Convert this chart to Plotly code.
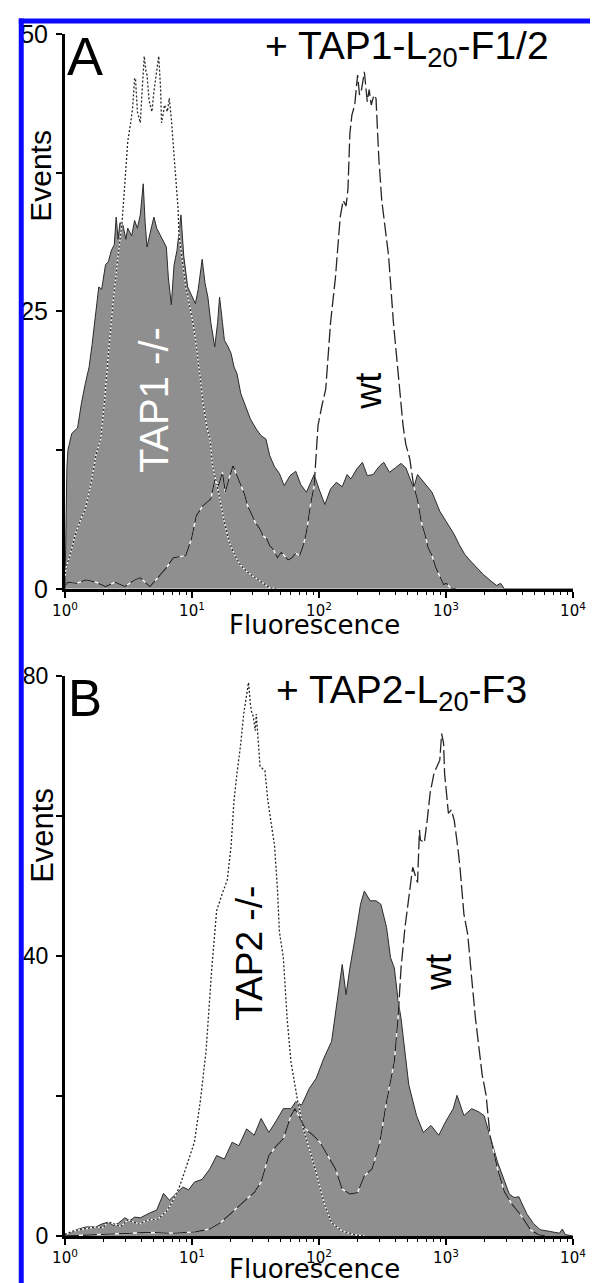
import plotly.graph_objects as go

# ---------------- DATA (log10 fluorescence, events) ----------------
# Panel A
a_fill_log = [0.000, 0.008, 0.015, 0.023, 0.053, 0.099, 0.129, 0.160, 0.190, 0.213, 0.243, 0.266, 0.289, 0.319,
              0.342, 0.365, 0.388, 0.403, 0.418, 0.433, 0.456, 0.479, 0.494, 0.525, 0.548, 0.570, 0.593, 0.616,
              0.631, 0.646, 0.669, 0.700, 0.722, 0.745, 0.768, 0.798, 0.814, 0.837, 0.859, 0.882, 0.913, 0.935,
              0.966, 0.996, 1.027, 1.049, 1.080, 1.103, 1.125, 1.148, 1.179, 1.202, 1.217, 1.240, 1.255, 1.285,
              1.308, 1.331, 1.354, 1.384, 1.422, 1.460, 1.506, 1.544, 1.582, 1.612, 1.650, 1.688, 1.726, 1.772,
              1.817, 1.856, 1.901, 1.932, 1.962, 2.000, 2.046, 2.091, 2.137, 2.183, 2.221, 2.251, 2.297, 2.342,
              2.380, 2.426, 2.471, 2.510, 2.555, 2.601, 2.646, 2.684, 2.715, 2.745, 2.776, 2.829, 2.890, 2.951,
              3.004, 3.065, 3.103, 3.148, 3.194, 3.240, 3.293, 3.354, 3.399, 3.430, 3.460, 4.000]
a_fill_events = [0, 6, 11, 12.5, 14, 14.5, 16.7, 18.5, 20, 22, 25, 27.2, 27, 29.2,
                 29.5, 30.5, 31, 33.5, 31.5, 33, 32.8, 31.5, 32.5, 31.8, 33.2, 32.5, 33.7, 36.5,
                 33, 30.8, 32, 33.5, 32.5, 32, 31.5, 30.8, 28, 25.6, 29.2, 30.5, 33.7, 30,
                 27.2, 26.5, 25.7, 27, 29.7, 27.5, 26.3, 24, 21.8, 24, 26.3, 24, 22.4, 21.8,
                 21.2, 20, 19.4, 17.6, 16.5, 15.3, 14.4, 13.8, 13.5, 12, 11, 10.4, 9.3, 10.2,
                 10.6, 9.4, 8.7, 9.6, 10.3, 9, 7.6, 9, 9.6, 9.2, 10.3, 9.9, 10.8, 11.4,
                 10.2, 10.3, 11, 11.4, 10.5, 10.9, 11.3, 10.9, 10, 9.1, 10.3, 9.6, 8.7, 7,
                 6, 4.9, 4, 3.1, 2.5, 1.9, 1.3, 0.7, 0.3, 0.5, 0, 0]

a_ko_log = [0.000, 0.008, 0.038, 0.084, 0.122, 0.160, 0.205, 0.243, 0.281, 0.312, 0.342, 0.380, 0.418, 0.449,
            0.471, 0.494, 0.517, 0.532, 0.548, 0.555, 0.570, 0.593, 0.608, 0.624, 0.639, 0.646, 0.662, 0.669,
            0.684, 0.700, 0.722, 0.738, 0.753, 0.760, 0.776, 0.783, 0.806, 0.821, 0.837, 0.859, 0.890, 0.897,
            0.920, 0.951, 0.981, 1.004, 1.027, 1.042, 1.065, 1.087, 1.118, 1.141, 1.163, 1.209, 1.255, 1.293,
            1.338, 1.384, 1.437, 1.498, 1.559, 1.612, 1.673]
a_ko_events = [1, 1.9, 3, 5, 6.2, 7.2, 9.5, 12, 13.5, 17, 21.2, 26, 30, 33,
               36.5, 40.3, 42, 43.3, 46, 46, 43, 42, 45, 48, 46.5, 46.3, 44, 43.6,
               43, 44.8, 46.5, 48, 45, 42, 43, 43.6, 43, 44.2, 42.4, 38.8, 34.3, 32,
               30, 27.2, 25.5, 24.2, 22.5, 21.2, 19, 16.7, 14.5, 13.5, 11, 8.7, 6, 4.2,
               3, 2.1, 1.5, 1.0, 0.5, 0.1, 0]

a_wt_log = [0.000, 0.023, 0.091, 0.167, 0.243, 0.319, 0.395, 0.471, 0.548, 0.593, 0.669, 0.745, 0.798, 0.852,
            0.897, 0.951, 0.996, 1.034, 1.087, 1.148, 1.179, 1.209, 1.240, 1.262, 1.293, 1.323, 1.354, 1.384,
            1.414, 1.437, 1.468, 1.498, 1.529, 1.559, 1.589, 1.612, 1.643, 1.673, 1.703, 1.726, 1.757, 1.787,
            1.817, 1.848, 1.878, 1.901, 1.932, 1.962, 1.992, 2.023, 2.053, 2.091, 2.129, 2.167, 2.190, 2.213,
            2.228, 2.243, 2.259, 2.281, 2.304, 2.319, 2.335, 2.357, 2.380, 2.395, 2.411, 2.433, 2.449, 2.456,
            2.471, 2.494, 2.525, 2.548, 2.586, 2.624, 2.662, 2.684, 2.715, 2.745, 2.776, 2.806, 2.837, 2.859,
            2.890, 2.920, 2.951, 2.981, 3.004, 3.034, 3.080]
a_wt_events = [0.3, 0.6, 0.5, 0.8, 0.6, 0.2, 0.6, 0.2, 0.8, 1.0, 0.2, 1.25, 1.9, 2.8,
               2.9, 3.0, 4.5, 6.6, 7.5, 8.1, 9.8, 9.3, 10.5, 8.7, 10, 11.1, 10.2, 9.3,
               8.5, 7.5, 6.8, 6.0, 5.5, 4.8, 4.5, 3.9, 3.5, 2.8, 3.3, 3.0, 2.6, 2.8,
               3.2, 3.0, 4, 5.1, 7.5, 9.3, 14.7, 16.5, 18, 24, 28, 33.5, 35, 34.5,
               36, 41, 42.7, 43.6, 46.3, 44.5, 45, 46.6, 43.9, 45, 43.6, 44.5, 44.2, 42.4,
               38.8, 35, 32, 30, 24, 19, 14.7, 13, 11.7, 9.3, 8, 6, 4.8, 3.7,
               3, 1.9, 1.2, 0.4, 0.5, 0.1, 0]

# Panel B
b_fill_log = [0.000, 0.038, 0.091, 0.167, 0.243, 0.289, 0.342, 0.380, 0.418, 0.471, 0.510, 0.548, 0.593, 0.631,
              0.669, 0.722, 0.753, 0.776, 0.821, 0.875, 0.928, 0.973, 1.019, 1.080, 1.141, 1.194, 1.255, 1.316,
              1.369, 1.430, 1.490, 1.544, 1.605, 1.658, 1.719, 1.779, 1.817, 1.863, 1.924, 1.977, 2.038, 2.099,
              2.152, 2.183, 2.213, 2.243, 2.289, 2.327, 2.357, 2.403, 2.449, 2.487, 2.532, 2.563, 2.593, 2.624,
              2.646, 2.707, 2.768, 2.821, 2.882, 2.943, 2.996, 3.057, 3.087, 3.141, 3.202, 3.262, 3.300, 3.346,
              3.407, 3.460, 3.498, 3.536, 3.574, 3.635, 3.688, 3.741, 3.817, 3.894, 3.916, 3.939, 3.970, 4.000]
b_fill_events = [0.3, 0.4, 0.9, 1.3, 1.3, 1.7, 2.0, 1.5, 1.8, 2.6, 2.2, 2.7, 2.6, 3.0,
                 3.3, 3.7, 5.0, 6.1, 5.1, 6.1, 7.0, 6.6, 7.7, 8.1, 9.6, 11.5, 11.0, 13.4,
                 12.9, 15.3, 14.4, 16.8, 14.8, 16.3, 18.2, 18.2, 19.2, 18.7, 21.1, 22.5, 25.4, 27.8,
                 34.5, 38.8, 34.5, 38.3, 43.1, 47.4, 49.3, 47.9, 47.9, 47.4, 44.1, 39.8, 38.3, 33.5,
                 31.1, 21.6, 17.2, 14.8, 15.8, 14.4, 16.3, 18.2, 20.1, 17.2, 18.2, 17.7, 17.2, 14.4,
                 10.5, 7.9, 6.0, 5.5, 5.6, 3.2, 1.8, 0.9, 0.6, 0.4, 1.0, 0.2, 0.1, 0]

b_ko_log = [0.000, 0.061, 0.152, 0.243, 0.297, 0.342, 0.441, 0.494, 0.586, 0.654, 0.730, 0.798, 0.844, 0.905,
            0.966, 1.019, 1.065, 1.110, 1.156, 1.194, 1.240, 1.278, 1.308, 1.331, 1.354, 1.384, 1.407, 1.430,
            1.445, 1.460, 1.468, 1.483, 1.498, 1.506, 1.521, 1.536, 1.574, 1.597, 1.620, 1.650, 1.673, 1.688,
            1.719, 1.749, 1.779, 1.810, 1.833, 1.878, 1.924, 1.985, 2.038, 2.099, 2.183, 2.274, 2.357]
b_ko_events = [0.2, 0.7, 1.0, 1.3, 1.2, 2.0, 1.4, 2.3, 1.7, 2.3, 2.4, 3.5, 4.8, 7.2,
               10.5, 13.4, 19.2, 26.3, 38.3, 46.5, 49, 50.9, 55.8, 62.3, 66.1, 70.4, 74.6, 77,
               79.1, 76, 75, 74.2, 72.2, 74.6, 71, 67.1, 66.5, 62.3, 59.4, 55.8, 49.5, 43.5,
               39.8, 31.1, 24.9, 21.6, 19.2, 15.3, 12.5, 8.6, 4.8, 1.9, 0.7, 0.2, 0]

b_wt_log = [0.000, 0.342, 0.646, 0.875, 1.027, 1.141, 1.224, 1.316, 1.369, 1.430, 1.490, 1.544, 1.605, 1.665,
            1.719, 1.779, 1.810, 1.863, 1.894, 1.954, 2.008, 2.068, 2.129, 2.183, 2.243, 2.304, 2.357, 2.418,
            2.479, 2.532, 2.593, 2.624, 2.646, 2.677, 2.707, 2.738, 2.776, 2.791, 2.798, 2.829, 2.852, 2.875,
            2.905, 2.928, 2.951, 2.966, 2.981, 2.989, 3.004, 3.019, 3.042, 3.065, 3.095, 3.110, 3.141, 3.171,
            3.202, 3.232, 3.285, 3.316, 3.346, 3.407, 3.460, 3.521, 3.589, 3.635, 3.665, 3.726, 3.779]
b_wt_events = [0, 0.3, 0.5, 0.4, 0.6, 1.0, 1.9, 3.4, 4.3, 5.3, 6.2, 7.7, 11.5, 12.9,
               13.9, 17.2, 18.2, 16.3, 15.3, 14.4, 13.4, 11.5, 9.6, 6.7, 6.0, 6.2, 8.6, 9.6,
               13.4, 19.2, 24.9, 31.6, 38.3, 44.1, 48.4, 52.7, 50.5, 58, 56.6, 56.2, 59.4, 63.3,
               66.1, 67.1, 68, 71.8, 70.4, 66.1, 63.3, 60.4, 60.9, 59.4, 55.2, 52.7, 46, 43.1,
               36.9, 31.1, 23, 20.1, 14.4, 9.5, 6.3, 4.5, 3.0, 1.8, 0.9, 0.2, 0]

x_tick_vals = [1, 10, 100, 1000, 10000]
x_tick_text = ["10<sup>0</sup>", "10<sup>1</sup>", "10<sup>2</sup>", "10<sup>3</sup>", "10<sup>4</sup>"]
a_y_ticks = [0, 12.5, 25, 37.5, 50]
a_y_text = ["0", "", "25", "", "50"]
b_y_ticks = [0, 20, 40, 60, 80]
b_y_text = ["0", "", "40", "", "80"]

# ---------------- STYLE ----------------
GREY = "#8f8f8f"
OUTLINE = "#2a2a2a"
LINE = "#262626"
ARIAL = "Liberation Sans, Arial, sans-serif"
DEJAVU = "DejaVu Sans, Verdana, sans-serif"

# the page puts the figure 8 px in from the top-left corner (body margin)
OFF = 8
PAGE_W, PAGE_H = 598, 1283
W, H = PAGE_W - OFF, PAGE_H - OFF
PLOT_L, PLOT_R, PLOT_T, PLOT_B = 55, 581, 25, 1236          # page pixels of the plot area
ML, MR, MT, MB = PLOT_L - OFF, PAGE_W - PLOT_R, PLOT_T - OFF, PAGE_H - PLOT_B
PW, PH = PLOT_R - PLOT_L, PLOT_B - PLOT_T


def px_x(px):
    return (px - PLOT_L) / PW


def px_y(py):
    return (PLOT_B - py) / PH


def fl(logs):
    return [10 ** v for v in logs]


fig = go.Figure()


def add_panel(xa, ya, fill_l, fill_v, ko_l, ko_v, wt_l, wt_v):
    fig.add_trace(go.Scatter(x=fl(fill_l), y=fill_v, mode="lines", fill="tozeroy",
                             fillcolor=GREY, line=dict(color=OUTLINE, width=1),
                             xaxis=xa, yaxis=ya, hoverinfo="skip"))
    for l, v, dash in ((ko_l, ko_v, "2px,2px"), (wt_l, wt_v, "14px,4px")):
        fig.add_trace(go.Scatter(x=fl(l), y=v, mode="lines",
                                 line=dict(color="white", width=1.3),
                                 xaxis=xa, yaxis=ya, hoverinfo="skip"))
        fig.add_trace(go.Scatter(x=fl(l), y=v, mode="lines",
                                 line=dict(color=LINE, width=1.3, dash=dash),
                                 xaxis=xa, yaxis=ya, hoverinfo="skip"))


add_panel("x", "y", a_fill_log, a_fill_events, a_ko_log, a_ko_events, a_wt_log, a_wt_events)
add_panel("x2", "y2", b_fill_log, b_fill_events, b_ko_log, b_ko_events, b_wt_log, b_wt_events)

minor_vals = [m * 10 ** k for k in range(4) for m in range(2, 10)]

xcommon = dict(type="log", range=[0, 4], domain=[0, 1], showline=True, linecolor="black",
               linewidth=3, ticks="outside", ticklen=6, tickwidth=2, tickcolor="black",
               tickvals=x_tick_vals, ticktext=x_tick_text,
               tickfont=dict(family=DEJAVU, size=15, color="black"),
               minor=dict(tickvals=minor_vals, ticks="outside", ticklen=3, tickwidth=1.2,
                          tickcolor="black", showgrid=False),
               showgrid=False, zeroline=False)
ycommon = dict(showline=True, linecolor="black", linewidth=3, ticks="outside", ticklen=6,
               tickwidth=2, tickcolor="black", ticklabelstandoff=3,
               showgrid=False, zeroline=False)

domA = [px_y(584), 1.0]
domB = [0.0, px_y(672)]

fig.update_layout(
    width=W, height=H,
    margin=dict(l=ML, r=MR, t=MT, b=MB, pad=0),
    paper_bgcolor="white", plot_bgcolor="white",
    showlegend=False, hovermode=False,
    xaxis=dict(xcommon, anchor="y"),
    yaxis=dict(ycommon, domain=domA, range=[0, 50], tickvals=a_y_ticks, ticktext=a_y_text, anchor="x",
               tickfont=dict(family=ARIAL, size=25, color="black")),
    xaxis2=dict(xcommon, anchor="y2"),
    yaxis2=dict(ycommon, domain=domB, range=[0, 80], tickvals=b_y_ticks, ticktext=b_y_text, anchor="x2",
                tickfont=dict(family=ARIAL, size=23, color="black")),
)

ann = []


def paper_text(text, px, py, size, family=ARIAL, angle=0, xanchor="center", color="black"):
    ann.append(dict(text=text, x=px_x(px), y=px_y(py), xref="paper", yref="paper",
                    showarrow=False, textangle=angle, xanchor=xanchor, yanchor="middle",
                    font=dict(family=family, size=size, color=color)))


def data_text(text, xa, ya, lx, v, size, color, angle=-90):
    ann.append(dict(text=text, x=lx, y=v, xref=xa, yref=ya, showarrow=False,
                    textangle=angle, xanchor="center", yanchor="middle",
                    font=dict(family=ARIAL, size=size, color=color)))


paper_text("A", 55, 47, 54, xanchor="left")
paper_text("+ TAP1-L<sub>20</sub>-F1/2", 409, 40, 39)
paper_text("B", 56, 694, 51, xanchor="left")
paper_text("+ TAP2-L<sub>20</sub>-F3", 403, 688, 39)
paper_text("Events", 30, 168, 30, angle=-90)
paper_text("Events", 31, 832, 31, angle=-90)
paper_text("Fluorescence", 313, 620, 26, family=DEJAVU)
paper_text("Fluorescence", 313, 1269, 26, family=DEJAVU)

data_text("TAP1 -/-", "x", "y", 0.70, 17.0, 40, "white")
data_text("wt", "x", "y", 2.39, 17.8, 36, "black")
data_text("TAP2 -/-", "x2", "y2", 1.452, 40.4, 37, "black")
data_text("wt", "x2", "y2", 2.935, 37.7, 36, "black")

fig.update_layout(annotations=ann)

# blue frame (top and left edges)
BLUE = "#0a0aff"
fig.update_layout(shapes=[
    dict(type="line", xref="paper", yref="paper", x0=px_x(9.7), x1=px_x(9.7),
         y0=px_y(1300), y1=px_y(9.3), line=dict(color=BLUE, width=5)),
    dict(type="line", xref="paper", yref="paper", x0=px_x(7.2), x1=px_x(610),
         y0=px_y(11.8), y1=px_y(11.8), line=dict(color=BLUE, width=5)),
])

fig.write_html("out.html")
